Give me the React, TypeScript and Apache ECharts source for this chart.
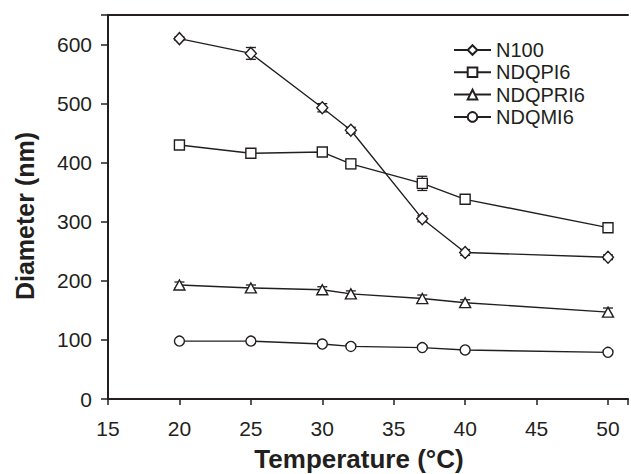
import React, { useEffect, useRef } from "react";
import * as echarts from "echarts";

const temperatures = [20, 25, 30, 32, 37, 40, 50];
const n100 = [610, 585, 493, 455, 305, 248, 240];
const ndqpi6 = [430, 416, 418, 398, 365, 338, 290];
const ndqpri6 = [193, 188, 185, 178, 170, 163, 147];
const ndqmi6 = [98, 98, 93, 89, 87, 83, 79];
const n100Err = [3, 10, 7, 5, 5, 5, 4];
const ndqpi6Err = [3, 4, 5, 8, 12, 5, 4];
const ndqpri6Err = [5, 5, 5, 5, 6, 5, 7];
const ndqmi6Err = [2, 2, 2, 2, 2, 2, 2];
const xTitle = "Temperature (°C)";
const yTitle = "Diameter (nm)";

const INK = "#231f20";
const FONT = "'Liberation Sans', Arial, sans-serif";

function pairs(vals: number[]) {
  return temperatures.map((t, i) => [t, vals[i]]);
}
function triples(vals: number[], errs: number[]) {
  return temperatures.map((t, i) => [t, vals[i], errs[i]]);
}

const errorRender = (params: any, api: any) => {
  const x = api.value(0);
  const y = api.value(1);
  const e = api.value(2);
  const top = api.coord([x, y + e]);
  const bot = api.coord([x, y - e]);
  const cap = 5;
  const style = { stroke: INK, lineWidth: 1.3 };
  return {
    type: "group",
    children: [
      { type: "line", shape: { x1: top[0], y1: top[1], x2: bot[0], y2: bot[1] }, style },
      { type: "line", shape: { x1: top[0] - cap, y1: top[1], x2: top[0] + cap, y2: top[1] }, style },
      { type: "line", shape: { x1: bot[0] - cap, y1: bot[1], x2: bot[0] + cap, y2: bot[1] }, style },
    ],
  };
};

export default function App() {
  const ref = useRef<HTMLDivElement>(null);
  useEffect(() => {
    if (!ref.current) return;
    const chart = echarts.init(ref.current, null, { renderer: "svg" });
    const lineSeries = (name: string, vals: number[], symbol: string, size: any) => ({
      name,
      type: "line",
      data: pairs(vals),
      symbol,
      symbolSize: size,
      showAllSymbol: true,
      lineStyle: { color: INK, width: 1.4 },
      itemStyle: { color: "#ffffff", borderColor: INK, borderWidth: 1.4 },
      z: 3,
    });
    const errSeries = (vals: number[], errs: number[]) => ({
      type: "custom",
      renderItem: errorRender,
      data: triples(vals, errs),
      z: 2,
      silent: true,
    });
    chart.setOption({
      animation: false,
      backgroundColor: "#ffffff",
      grid: { left: 108, top: 15, right: 0, bottom: 75, containLabel: false },
      legend: {
        data: ["N100", "NDQPI6", "NDQPRI6", "NDQMI6"],
        orient: "vertical",
        left: 453,
        top: 40,
        padding: 0,
        itemWidth: 37,
        itemHeight: 12,
        itemGap: 2.3,
        textStyle: { fontSize: 20, lineHeight: 20, color: INK, fontFamily: FONT },
      },
      xAxis: [
        {
          type: "value",
          min: 15,
          max: 51.4,
          interval: 5,
          axisLine: { show: true, lineStyle: { color: INK, width: 2 } },
          axisTick: { show: true, length: 6, lineStyle: { color: INK, width: 1.5 } },
          axisLabel: {
            fontSize: 21,
            color: INK,
            fontFamily: FONT,
            margin: 19,
            formatter: (v: number) => (v % 5 === 0 ? String(v) : ""),
          },
          splitLine: { show: false },
        },
        {
          type: "value",
          position: "top",
          min: 15,
          max: 51.4,
          axisLine: { show: true, onZero: false, lineStyle: { color: INK, width: 2 } },
          axisTick: { show: false },
          axisLabel: { show: false },
          splitLine: { show: false },
        },
      ],
      yAxis: {
        type: "value",
        min: 0,
        max: 650,
        interval: 100,
        axisLine: { show: true, lineStyle: { color: INK, width: 2 } },
        axisTick: { show: true, length: 7, lineStyle: { color: INK, width: 1.5 } },
        axisLabel: {
          fontSize: 21,
          color: INK,
          fontFamily: FONT,
          margin: 16,
          formatter: (v: number) => (v % 100 === 0 ? String(v) : ""),
        },
        splitLine: { show: false },
      },
      graphic: [
        {
          type: "text",
          x: 359,
          y: 459,
          style: {
            text: xTitle,
            font: `bold 26px ${FONT}`,
            fill: INK,
            textAlign: "center",
            textVerticalAlign: "middle",
          },
        },
        {
          type: "text",
          x: 25,
          y: 216,
          rotation: Math.PI / 2,
          style: {
            text: yTitle,
            font: `bold 25px ${FONT}`,
            fill: INK,
            textAlign: "center",
            textVerticalAlign: "middle",
          },
        },
      ],
      series: [
        errSeries(n100, n100Err),
        errSeries(ndqpi6, ndqpi6Err),
        errSeries(ndqpri6, ndqpri6Err),
        errSeries(ndqmi6, ndqmi6Err),
        lineSeries("N100", n100, "diamond", [11, 12]),
        lineSeries("NDQPI6", ndqpi6, "rect", 10),
        lineSeries("NDQPRI6", ndqpri6, "triangle", [11, 10]),
        lineSeries("NDQMI6", ndqmi6, "circle", 10),
      ],
    });
    return () => chart.dispose();
  }, []);
  return <div ref={ref} style={{ width: 631, height: 474, position: "absolute", left: 0, top: 0 }} />;
}
